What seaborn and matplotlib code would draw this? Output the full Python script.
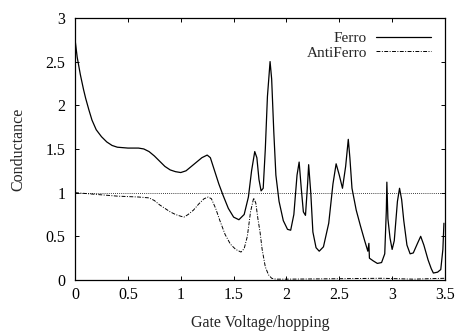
import numpy as np
import pandas as pd
import seaborn as sns
import matplotlib
matplotlib.use("Agg")
import matplotlib.pyplot as plt

# Values
ferro_x = [0.00, 0.02, 0.05, 0.08, 0.10, 0.13, 0.16, 0.20, 0.25, 0.30, 0.35, 0.40,
           0.50, 0.60, 0.65, 0.70, 0.75, 0.80, 0.85, 0.90, 0.95, 1.00, 1.05, 1.10,
           1.15, 1.20, 1.25, 1.28, 1.32, 1.36, 1.40, 1.45, 1.50, 1.55, 1.60, 1.64,
           1.67, 1.70, 1.72, 1.74, 1.76, 1.78, 1.80, 1.82, 1.845, 1.86, 1.88, 1.90,
           1.93, 1.97, 2.01, 2.04, 2.07, 2.10, 2.12, 2.14, 2.16, 2.18, 2.20, 2.21,
           2.23, 2.25, 2.28, 2.31, 2.35, 2.40, 2.44, 2.47, 2.50, 2.53, 2.56, 2.585,
           2.60, 2.62, 2.66, 2.70, 2.74, 2.77, 2.78, 2.785, 2.82, 2.86, 2.90, 2.93,
           2.945, 2.95, 2.96, 2.98, 3.00, 3.02, 3.05, 3.07, 3.09, 3.11, 3.14, 3.17,
           3.20, 3.24, 3.27, 3.30, 3.34, 3.37, 3.39, 3.43, 3.46, 3.48, 3.49]
ferro_y = [2.75, 2.55, 2.35, 2.18, 2.08, 1.95, 1.83, 1.72, 1.64, 1.58, 1.54, 1.52,
           1.51, 1.51, 1.50, 1.47, 1.42, 1.36, 1.30, 1.26, 1.24, 1.23, 1.25, 1.30,
           1.35, 1.40, 1.43, 1.40, 1.25, 1.10, 0.97, 0.82, 0.72, 0.69, 0.75, 0.95,
           1.25, 1.47, 1.40, 1.15, 1.02, 1.05, 1.50, 2.10, 2.50, 2.30, 1.70, 1.20,
           0.90, 0.68, 0.58, 0.57, 0.75, 1.20, 1.35, 1.05, 0.78, 0.74, 1.10, 1.32,
           1.00, 0.55, 0.37, 0.33, 0.38, 0.65, 1.10, 1.33, 1.20, 1.05, 1.30, 1.61,
           1.40, 1.05, 0.80, 0.62, 0.45, 0.33, 0.42, 0.25, 0.22, 0.19, 0.20, 0.30,
           0.80, 1.12, 0.70, 0.48, 0.35, 0.45, 0.90, 1.05, 0.92, 0.68, 0.40, 0.30,
           0.31, 0.42, 0.50, 0.40, 0.23, 0.13, 0.08, 0.09, 0.12, 0.35, 0.65]

anti_x = [0.00, 0.10, 0.20, 0.30, 0.40, 0.50, 0.60, 0.70, 0.75, 0.80, 0.85, 0.90,
          0.95, 1.00, 1.03, 1.07, 1.12, 1.17, 1.22, 1.26, 1.29, 1.33, 1.37, 1.42,
          1.47, 1.52, 1.57, 1.60, 1.63, 1.66, 1.69, 1.71, 1.73, 1.75, 1.77, 1.80,
          1.83, 1.86, 1.90, 2.00, 2.50, 2.90, 3.20, 3.50]
anti_y = [1.00, 0.99, 0.98, 0.97, 0.96, 0.955, 0.95, 0.94, 0.91, 0.86, 0.82, 0.78,
          0.75, 0.73, 0.72, 0.75, 0.80, 0.87, 0.93, 0.95, 0.93, 0.82, 0.68, 0.52,
          0.41, 0.35, 0.32, 0.36, 0.50, 0.78, 0.94, 0.88, 0.70, 0.55, 0.35, 0.15,
          0.06, 0.02, 0.01, 0.01, 0.015, 0.02, 0.01, 0.02]

REF_LEVEL = 1.0
x_ticks = [0, 0.5, 1, 1.5, 2, 2.5, 3, 3.5]
y_ticks = [0, 0.5, 1, 1.5, 2, 2.5, 3]

sns.set_style("ticks")
plt.rcParams['font.family'] = ['Liberation Serif', 'DejaVu Serif']

fig = plt.figure(figsize=(4.55, 3.31), dpi=100)
ax = fig.add_axes([0.165, 0.154, 0.813, 0.792])

ax.axhline(REF_LEVEL, color='black', lw=0.6, ls=(0, (1, 1.5)))
sns.lineplot(x=ferro_x, y=ferro_y, ax=ax, color='black', lw=0.9, label='Ferro')
sns.lineplot(x=anti_x, y=anti_y, ax=ax, color='black', lw=0.7,
             linestyle=(0, (4, 1.5, 1, 1.5)), label='AntiFerro')

ax.set_xlim(0, 3.5)
ax.set_ylim(0, 3)
ax.set_xticks(x_ticks)
ax.set_xticklabels(['0', '0.5', '1', '1.5', '2', '2.5', '3', '3.5'])
ax.set_yticks(y_ticks)
ax.set_yticklabels(['0', '0.5', '1', '1.5', '2', '2.5', '3'])
ax.tick_params(direction='in', top=True, right=True, length=3, width=0.7,
               labelsize=11.5, colors='black')
ax.tick_params(axis='y', pad=7)
ax.tick_params(axis='x', pad=5)
for s in ax.spines.values():
    s.set_linewidth(0.9)
    s.set_color('black')
ax.set_xlabel('Gate Voltage/hopping', fontsize=11.5, labelpad=9)
ax.set_ylabel('Conductance', fontsize=11.5, labelpad=14)

ax.legend(loc='upper right', frameon=False, markerfirst=False, fontsize=11,
          handlelength=3.6, handletextpad=0.6, labelspacing=0.05,
          borderaxespad=0.5)

fig.savefig('out.png', dpi=100)
